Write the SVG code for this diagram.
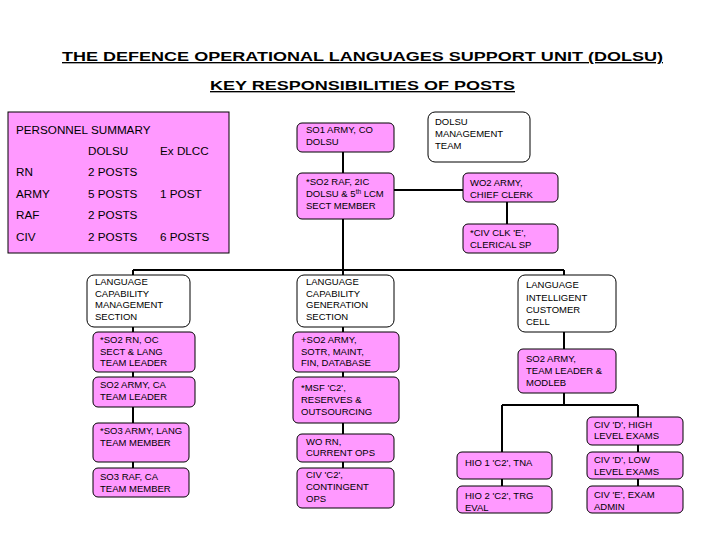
<svg xmlns="http://www.w3.org/2000/svg" width="720" height="540" viewBox="0 0 720 540">
<style>
text{font-family:"Liberation Sans",Arial,sans-serif;fill:#000}
.t{font-size:9.5px}
.s{font-size:11.7px}
.h{font-size:13.5px;font-weight:bold;text-decoration:underline}
.p{fill:#FF99FF;stroke:#000;stroke-width:1}
.w{fill:#fff;stroke:#000;stroke-width:1}
.c{stroke:#000;stroke-width:2;fill:none}
</style>
<rect width="720" height="540" fill="#fff"/>
<text class="h" x="62" y="61" textLength="601" lengthAdjust="spacingAndGlyphs">THE DEFENCE OPERATIONAL LANGUAGES SUPPORT UNIT (DOLSU)</text>
<text class="h" x="210" y="90" textLength="305" lengthAdjust="spacingAndGlyphs">KEY RESPONSIBILITIES OF POSTS</text>

<g id="connectors">
<path class="c" d="M343 152V468"/>
<path class="c" d="M133 270H564"/>
<path class="c" d="M133 270V468"/>
<path class="c" d="M394 190H463"/>
<path class="c" d="M507 202V224"/>
<path class="c" d="M564 270V405"/>
<path class="c" d="M502 405H638"/>
<path class="c" d="M502 405V486"/>
<path class="c" d="M638 405V486"/>
</g>

<g id="personnel-summary">
<rect class="p" x="8" y="112" width="221" height="141" style="fill:#FF99FF"/>
<text class="s" x="16" y="134">PERSONNEL SUMMARY</text>
<text class="s" x="88" y="155">DOLSU</text>
<text class="s" x="160" y="155">Ex DLCC</text>
<text class="s" x="16" y="176">RN</text>
<text class="s" x="88" y="176">2 POSTS</text>
<text class="s" x="16" y="198">ARMY</text>
<text class="s" x="88" y="198">5 POSTS</text>
<text class="s" x="160" y="198">1 POST</text>
<text class="s" x="16" y="219">RAF</text>
<text class="s" x="88" y="219">2 POSTS</text>
<text class="s" x="16" y="241">CIV</text>
<text class="s" x="88" y="241">2 POSTS</text>
<text class="s" x="160" y="241">6 POSTS</text>
</g>

<g id="so1-army">
<rect class="p" x="297" y="123" width="97" height="29" rx="5"/>
<text class="t" x="306" y="133">SO1 ARMY, CO</text>
<text class="t" x="306" y="145">DOLSU</text>
</g>

<g id="dolsu-management-team">
<rect class="w" x="428" y="112" width="102" height="50" rx="7"/>
<text class="t" x="435" y="125">DOLSU</text>
<text class="t" x="435" y="137">MANAGEMENT</text>
<text class="t" x="435" y="149">TEAM</text>
</g>

<g id="so2-raf">
<rect class="p" x="297" y="173" width="97" height="46" rx="5"/>
<text class="t" x="306" y="185">*SO2 RAF, 2IC</text>
<text class="t" x="306" y="197">DOLSU &amp; 5<tspan font-size="6.5" dy="-3">th</tspan><tspan dy="3"> LCM</tspan></text>
<text class="t" x="306" y="209">SECT MEMBER</text>
</g>

<g id="wo2-army">
<rect class="p" x="463" y="173" width="95" height="29" rx="5"/>
<text class="t" x="470" y="186">WO2 ARMY,</text>
<text class="t" x="470" y="198">CHIEF CLERK</text>
</g>

<g id="civ-clk">
<rect class="p" x="463" y="224" width="95" height="29" rx="5"/>
<text class="t" x="470" y="236">*CIV CLK 'E',</text>
<text class="t" x="470" y="248">CLERICAL SP</text>
</g>

<g id="lcms">
<rect class="w" x="87" y="275" width="103" height="52" rx="7"/>
<text class="t" x="95" y="285">LANGUAGE</text>
<text class="t" x="95" y="297">CAPABILITY</text>
<text class="t" x="95" y="308">MANAGEMENT</text>
<text class="t" x="95" y="320">SECTION</text>
</g>

<g id="so2-rn">
<rect class="p" x="93" y="332" width="102" height="40" rx="5"/>
<text class="t" x="100" y="343">*SO2 RN, OC</text>
<text class="t" x="100" y="355">SECT &amp; LANG</text>
<text class="t" x="100" y="366">TEAM LEADER</text>
</g>

<g id="so2-army-ca">
<rect class="p" x="93" y="377" width="102" height="30" rx="5"/>
<text class="t" x="100" y="388">SO2 ARMY, CA</text>
<text class="t" x="100" y="400">TEAM LEADER</text>
</g>

<g id="so3-army">
<rect class="p" x="93" y="423" width="96" height="39" rx="5"/>
<text class="t" x="100" y="434">*SO3 ARMY, LANG</text>
<text class="t" x="100" y="446">TEAM MEMBER</text>
</g>

<g id="so3-raf">
<rect class="p" x="93" y="468" width="96" height="29" rx="5"/>
<text class="t" x="100" y="480">SO3 RAF, CA</text>
<text class="t" x="100" y="492">TEAM MEMBER</text>
</g>

<g id="lcgs">
<rect class="w" x="297" y="275" width="97" height="52" rx="7"/>
<text class="t" x="306" y="285">LANGUAGE</text>
<text class="t" x="306" y="297">CAPABILITY</text>
<text class="t" x="306" y="308">GENERATION</text>
<text class="t" x="306" y="320">SECTION</text>
</g>

<g id="so2-army-sotr">
<rect class="p" x="293" y="332" width="106" height="40" rx="5"/>
<text class="t" x="301" y="343">+SO2 ARMY,</text>
<text class="t" x="301" y="355">SOTR, MAINT,</text>
<text class="t" x="301" y="366">FIN, DATABASE</text>
</g>

<g id="msf-c2">
<rect class="p" x="293" y="377" width="106" height="46" rx="5"/>
<text class="t" x="301" y="391">*MSF 'C2',</text>
<text class="t" x="301" y="403">RESERVES &amp;</text>
<text class="t" x="301" y="415">OUTSOURCING</text>
</g>

<g id="wo-rn">
<rect class="p" x="297" y="434" width="97" height="28" rx="5"/>
<text class="t" x="306" y="445">WO RN,</text>
<text class="t" x="306" y="456">CURRENT OPS</text>
</g>

<g id="civ-c2">
<rect class="p" x="297" y="468" width="97" height="40" rx="5"/>
<text class="t" x="306" y="478">CIV 'C2',</text>
<text class="t" x="306" y="490">CONTINGENT</text>
<text class="t" x="306" y="502">OPS</text>
</g>

<g id="licc">
<rect class="w" x="518" y="275" width="98" height="57" rx="7"/>
<text class="t" x="526" y="288">LANGUAGE</text>
<text class="t" x="526" y="301">INTELLIGENT</text>
<text class="t" x="526" y="313">CUSTOMER</text>
<text class="t" x="526" y="325">CELL</text>
</g>

<g id="so2-army-modleb">
<rect class="p" x="518" y="349" width="98" height="44" rx="5"/>
<text class="t" x="526" y="362">SO2 ARMY,</text>
<text class="t" x="526" y="374">TEAM LEADER &amp;</text>
<text class="t" x="526" y="386">MODLEB</text>
</g>

<g id="hio1">
<rect class="p" x="457" y="452" width="95" height="27" rx="5"/>
<text class="t" x="465" y="466">HIO 1 'C2', TNA</text>
</g>

<g id="hio2">
<rect class="p" x="457" y="486" width="95" height="27" rx="5"/>
<text class="t" x="465" y="499">HIO 2 'C2', TRG</text>
<text class="t" x="465" y="511">EVAL</text>
</g>

<g id="civ-d-high">
<rect class="p" x="587" y="417" width="96" height="28" rx="5"/>
<text class="t" x="594" y="428">CIV 'D', HIGH</text>
<text class="t" x="594" y="439">LEVEL EXAMS</text>
</g>

<g id="civ-d-low">
<rect class="p" x="587" y="452" width="96" height="27" rx="5"/>
<text class="t" x="594" y="463">CIV 'D', LOW</text>
<text class="t" x="594" y="475">LEVEL EXAMS</text>
</g>

<g id="civ-e-exam">
<rect class="p" x="587" y="486" width="96" height="27" rx="5"/>
<text class="t" x="594" y="498">CIV 'E', EXAM</text>
<text class="t" x="594" y="510">ADMIN</text>
</g>
</svg>
